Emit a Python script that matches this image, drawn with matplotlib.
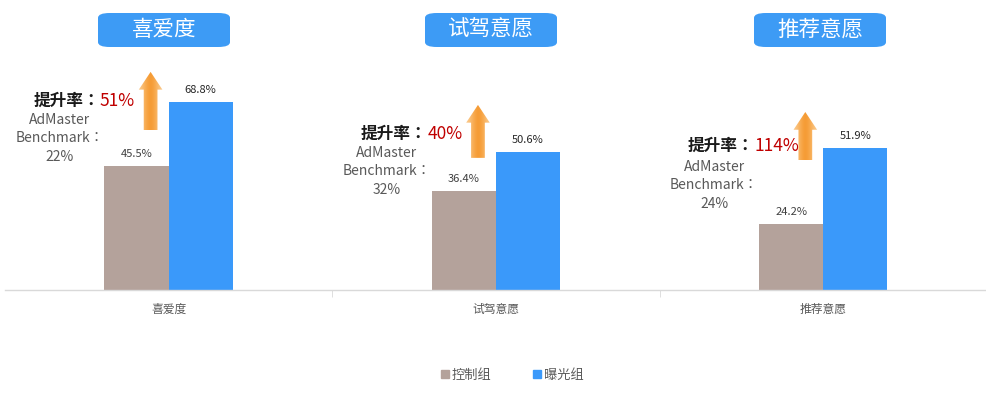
import numpy as np
import matplotlib.pyplot as plt
from matplotlib.patches import FancyBboxPatch, FancyArrow, Patch

plt.rcParams['font.family'] = ['Noto Sans CJK SC', 'DejaVu Sans']

categories = ['喜爱度', '试驾意愿', '推荐意愿']
control = [45.5, 36.4, 24.2]
exposure = [68.8, 50.6, 51.9]
lift = ['51%', '40%', '114%']
benchmark = ['22%', '32%', '24%']
series_names = ['控制组', '曝光组']

# layout (data units)
lift_y = [69.2, 57.1, 52.7]
bench_gap = [4.2, 4.2, 5.0]
arrow_span = [(58.6, 79.9), (48.4, 67.8), (47.6, 65.2)]

c_ctrl = '#b4a29b'
c_exp = '#3a99fa'
tc = ['Noto Sans CJK TC', 'DejaVu Sans']

fig = plt.figure(figsize=(9.87, 4.0), dpi=100)
ax = fig.add_axes([0.005, 0.275, 0.995, 0.6825])

x = np.arange(len(categories))
w = 0.196
ax.bar(x - w / 2, control, w, color=c_ctrl)
ax.bar(x + w / 2, exposure, w, color=c_exp)
ax.set_xlim(-0.5, 2.5)
ax.set_ylim(0, 100)

cmap = plt.matplotlib.colors.LinearSegmentedColormap.from_list('o', ['#fbc98a', '#f5962a'])
for i in range(len(categories)):
    ax.text(x[i] - w / 2, control[i] + 2.5, f'{control[i]:.1f}%', ha='center', va='bottom',
            fontsize=8, color='#404040')
    ax.text(x[i] + w / 2, exposure[i] + 2.5, f'{exposure[i]:.1f}%', ha='center', va='bottom',
            fontsize=8, color='#262626')

    # gradient arrow
    y0, y1 = arrow_span[i]
    ax_x = x[i] - 0.055
    arr = FancyArrow(ax_x, y0, 0, y1 - y0, width=0.042, head_width=0.072,
                     head_length=6.5, length_includes_head=True, lw=0,
                     facecolor='none')
    ax.add_patch(arr)
    grad = np.array([[0.0, 0.6, 1.0, 0.6, 0.0]])
    im = ax.imshow(grad, extent=(ax_x - 0.038, ax_x + 0.038, y0, y1), aspect='auto',
                   cmap=cmap, interpolation='bicubic', zorder=3)
    im.set_clip_path(arr)

    # lift text
    ax.text(x[i] - 0.21, lift_y[i], '提升率：', ha='right', va='center',
            fontsize=12, fontweight='bold', color='#1a1a1a', family=tc)
    ax.text(x[i] - 0.21, lift_y[i], lift[i], ha='left', va='center',
            fontsize=12.5, color='#c00000')
    ax.text(x[i] - 0.333, lift_y[i] - bench_gap[i], f'AdMaster\nBenchmark：\n{benchmark[i]}',
            ha='center', va='top', fontsize=10, color='#595959', linespacing=1.42,
            family=tc)

ax.set_xticks(x)
ax.set_xticklabels(categories, fontsize=8.5, color='#595959')
ax.tick_params(axis='x', length=0, pad=9)
ax.set_xticks([0.5, 1.5], minor=True)
ax.tick_params(axis='x', which='minor', length=5, color='#d9d9d9', direction='out')
ax.set_yticks([])
for s in ['top', 'right', 'left']:
    ax.spines[s].set_visible(False)
ax.spines['bottom'].set_color('#d9d9d9')
ax.spines['bottom'].set_linewidth(1)
ax.set_aspect('auto')

# title boxes
centers_px = [164, 491, 820]
for cx, cat in zip(centers_px, categories):
    bw, bh = 132, 34
    box = FancyBboxPatch(((cx - bw / 2) / 987, (400 - 47) / 400), bw / 987, bh / 400,
                         boxstyle='round,pad=0,rounding_size=0.012', transform=fig.transFigure,
                         facecolor='#3d9bf5', edgecolor='none')
    fig.patches.append(box)
    fig.text(cx / 987, (400 - 30) / 400, cat, ha='center', va='center', fontsize=15.5,
             color='white')

handles = [Patch(color=c_ctrl), Patch(color=c_exp)]
fig.legend(handles, series_names, loc='center', bbox_to_anchor=(0.519, 0.0625), ncol=2,
           frameon=False, fontsize=9.5, handlelength=0.6, handleheight=0.6,
           handletextpad=0.2, columnspacing=3.2, labelcolor='#595959')

fig.savefig('out.png', dpi=100)
